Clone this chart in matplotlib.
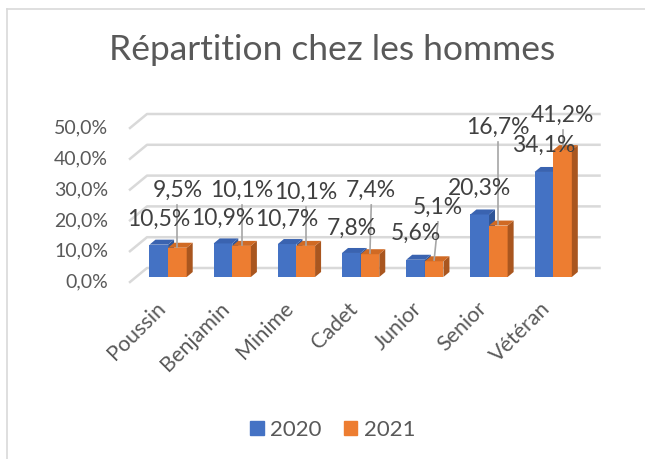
import matplotlib.pyplot as plt
import numpy as np
from matplotlib.patches import Polygon, Patch

categories = ['Poussin', 'Benjamin', 'Minime', 'Cadet', 'Junior', 'Senior', 'Vétéran']
v2020 = [0.105, 0.109, 0.107, 0.078, 0.056, 0.203, 0.341]
v2021 = [0.095, 0.101, 0.101, 0.074, 0.051, 0.167, 0.412]
yticks = [0.0, 0.1, 0.2, 0.3, 0.4, 0.5]

# where Excel put the data labels (value axis units)
lab_y2020 = [0.188, 0.192, 0.188, 0.159, 0.143, 0.289, 0.429]
lab_y2021 = [0.282, 0.282, 0.276, 0.282, 0.227, 0.487, 0.526]
lab_dx2021 = [0.0, 0.0, 0.0, 0.02, 0.06, 0.0, 0.0]

blue, blue_top = '#4472C4', '#3A63B0'
orange, orange_top, orange_side = '#ED7D31', '#D06A24', '#A9561F'
txt = '#595959'
plt.rcParams['font.family'] = ['Lato', 'DejaVu Sans']

W, H = 645, 459
fig = plt.figure(figsize=(W / 100, H / 100), dpi=100)
# bar plane: x from 136 to 588 px, y 0 at 277 px, 0.5 at 123 px
ax = fig.add_axes([136 / W, 1 - 277 / H, 452.5 / W, 154 / H])
ax.set_xlim(-0.5, 6.55)
ax.set_ylim(0, 0.5)
ax.axis('off')

kx = 7.05 / 452.5   # data units per pixel
ky = 0.5 / 154

# chart frame
fig.add_artist(plt.Line2D([7 / W, 7 / W], [0, 1 - 8.5 / H], color='#D9D9D9', lw=1.2))
fig.add_artist(plt.Line2D([7 / W, 1], [1 - 8.5 / H, 1 - 8.5 / H], color='#D9D9D9', lw=1.2))

# gridlines: slanted left wall + back wall
for v in yticks:
    ax.plot([-0.5 - 6 * kx, -0.5 + 11 * kx, 6.55 + 11 * kx],
            [v - 5 * ky, v + 9 * ky, v + 9 * ky],
            color='#D9D9D9', lw=1.8, clip_on=False, zorder=1)
    ax.text(-0.5 - 28 * kx, v - 5 * ky, f'{v * 100:.1f}%'.replace('.', ','),
            ha='right', va='center', fontsize=14, color=txt)

x = np.arange(len(categories))
w = 0.29
dx, dy = 6 * kx, 5 * ky


def bar3d(xc, h, c_front, c_top, c_side):
    x0, x1 = xc - w / 2, xc + w / 2
    ax.bar(xc, h, w, color=c_front, zorder=3)
    ax.add_patch(Polygon([(x1, 0), (x1, h), (x1 + dx, h + dy), (x1 + dx, dy)],
                         closed=True, color=c_side, zorder=3, lw=0))
    ax.add_patch(Polygon([(x0, h), (x1, h), (x1 + dx, h + dy), (x0 + dx, h + dy)],
                         closed=True, color=c_top, zorder=3, lw=0))


for i in range(len(categories)):
    bar3d(x[i] - w / 2, v2020[i], blue, blue_top, '#2F5597')
    bar3d(x[i] + w / 2, v2021[i], orange, orange_top, orange_side)

# leader lines + labels
for i in range(len(categories)):
    xo = x[i] + w / 2
    ax.plot([xo + lab_dx2021[i], xo], [lab_y2021[i] - 0.048, v2021[i] + 0.004],
            color='#A6A6A6', lw=1.2, zorder=4)
    ax.text(xo + lab_dx2021[i], lab_y2021[i], f'{v2021[i] * 100:.1f}%'.replace('.', ','),
            ha='center', va='center', fontsize=16.5, color='#404040', zorder=5)
    ax.text(x[i] - w / 2, lab_y2020[i], f'{v2020[i] * 100:.1f}%'.replace('.', ','),
            ha='center', va='center', fontsize=16.5, color='#404040', zorder=5)
    ax.text(x[i] - 0.2, -0.07, categories[i], rotation=45, rotation_mode='anchor',
            ha='right', va='top', fontsize=15.5, color=txt)

fig.text(332 / W, 1 - 50 / H, 'Répartition chez les hommes', ha='center', va='center',
         fontsize=25.5, color=txt)

handles = [Patch(color=blue, label='2020'), Patch(color=orange, label='2021')]
fig.legend(handles=handles, loc='center', bbox_to_anchor=(333 / W, 1 - 430 / H), ncol=2,
           frameon=False, fontsize=16, labelcolor=txt, handlelength=0.6, handleheight=0.6,
           handletextpad=0.3, columnspacing=1.0)

fig.savefig('out.png', dpi=100)
